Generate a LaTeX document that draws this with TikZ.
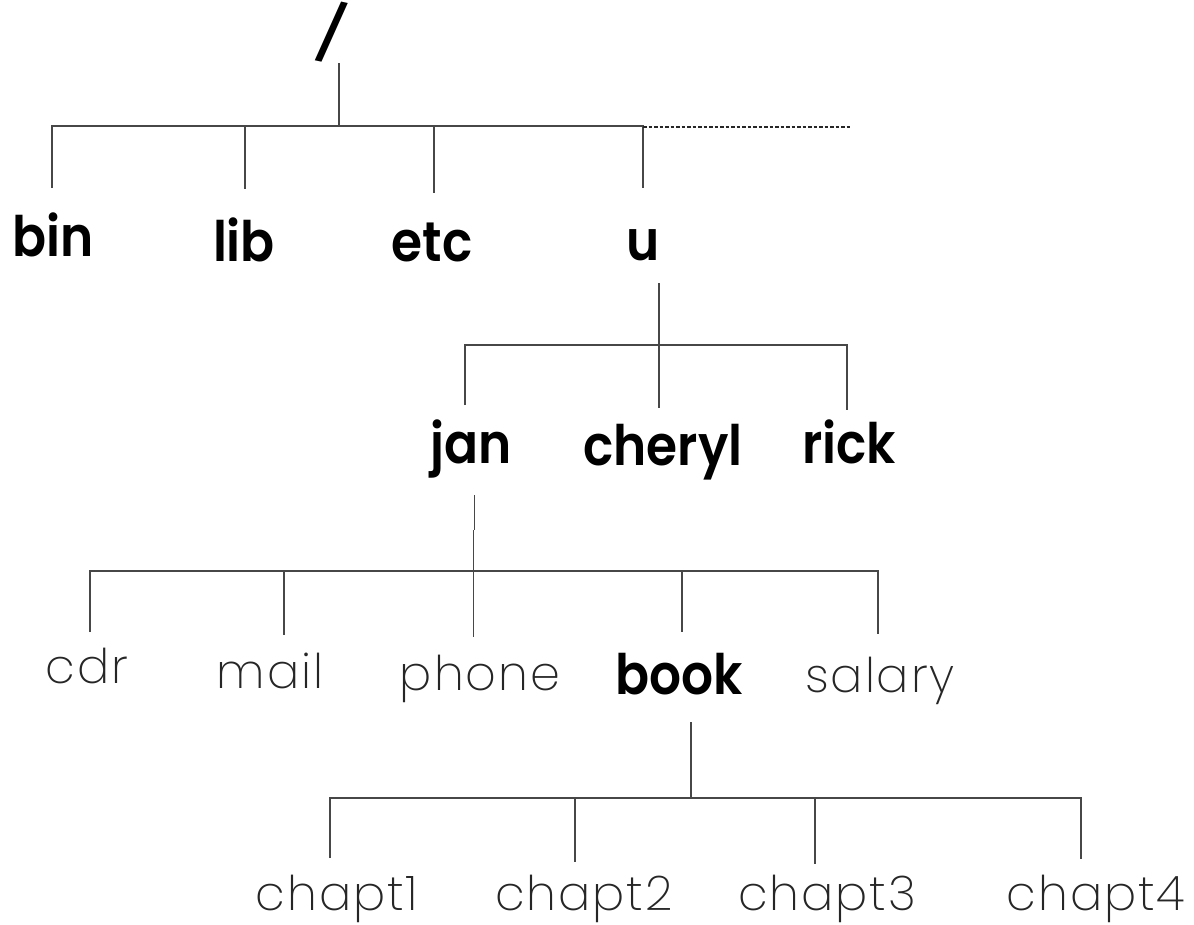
\documentclass[tikz,border=0pt]{standalone}
\usepackage{fontspec}
\newfontfamily\popb{Poppins SemiBold}[FakeStretch=0.9]
\newfontfamily\popl{Poppins ExtraLight}[LetterSpace=4]
\begin{document}
\begin{tikzpicture}[x=1bp,y=-1bp,
  dirb/.style={inner sep=0pt,anchor=base,font=\popb\fontsize{56}{60}\selectfont,text=black},
  fil/.style={inner sep=0pt,anchor=base,font=\popl\fontsize{48}{56}\selectfont,text=black!85},
  ln/.style={draw=black!72,line width=1.3bp},
  dsh/.style={draw=black!85,line width=1.1bp,dash pattern=on 3.5bp off 2bp}]
\useasboundingbox[fill=white] (0,0) rectangle (1194,925);
% texts
\node[dirb,anchor=center,rotate=-12] (root) at (332,32) {/};
\node[dirb] (bin) at (53,256) {bin};
\node[dirb] (lib) at (244,261) {lib};
\node[dirb] (etc) at (432,261) {etc};
\node[dirb] (u) at (643,260) {u};
\node[dirb] (jan) at (471,463) {jan};
\node[dirb] (cheryl) at (663,465) {cheryl};
\node[dirb] (rick) at (849,463) {rick};
\node[fil] (cdr) at (87,683) {cdr};
\node[fil] (mail) at (270,688) {mail};
\node[fil] (phone) at (480,690) {phone};
\node[dirb] (book) at (679,694) {book};
\node[fil] (salary) at (880,692) {salary};
\node[fil] (c1) at (337,910) {chapt1};
\node[fil] (c2) at (584,910) {chapt2};
\node[fil] (c3) at (827,910) {chapt3};
\node[fil] (c4) at (1096,910) {chapt4};
% junction coordinates
\coordinate (rootS) at (339,63);
\coordinate (rootJ) at (339,127);
\coordinate (barL) at (52,126);
\coordinate (barU) at (643,126);
\coordinate (barR) at (850,127);
\coordinate (binE) at (52,188);
\coordinate (libT) at (245,126); \coordinate (libE) at (245,189);
\coordinate (etcT) at (434,126); \coordinate (etcE) at (434,193);
\coordinate (uE) at (643,188);
\coordinate (uS) at (659,283); \coordinate (cherE) at (659,408);
\coordinate (ubL) at (465,345); \coordinate (ubR) at (847,345);
\coordinate (janE) at (465,405); \coordinate (rickE) at (847,410);
\coordinate (janS) at (474.5,495); \coordinate (janK1) at (474.5,530);
\coordinate (janK2) at (473.5,530); \coordinate (phoneE) at (473.5,637);
\coordinate (jbL) at (90,571); \coordinate (jbR) at (878,571);
\coordinate (cdrE) at (90,632);
\coordinate (mailT) at (284,571); \coordinate (mailE) at (284,635);
\coordinate (bookT) at (682,571); \coordinate (bookE) at (682,632);
\coordinate (salE) at (878,634);
\coordinate (bookS) at (691,722); \coordinate (bookJ) at (691,798);
\coordinate (bbL) at (330,798); \coordinate (bbR) at (1081,798);
\coordinate (c1E) at (330,858);
\coordinate (c2T) at (575,798); \coordinate (c2E) at (575,862);
\coordinate (c3T) at (815,798); \coordinate (c3E) at (815,864);
\coordinate (c4E) at (1081,859);
% connectors
\draw[ln] (rootS) -- (rootJ);
\draw[ln] (binE) -- (barL) -- (barU) -- (uE);
\draw[dsh] (barU) ++(0,1) -- (barR);
\draw[ln] (libT) -- (libE);
\draw[ln] (etcT) -- (etcE);
\draw[ln] (uS) -- (cherE);
\draw[ln] (janE) -- (ubL) -- (ubR) -- (rickE);
\draw[ln] (janS) -- (janK1);
\draw[ln] (janK2) -- (phoneE);
\draw[ln] (cdrE) -- (jbL) -- (jbR) -- (salE);
\draw[ln] (mailT) -- (mailE);
\draw[ln] (bookT) -- (bookE);
\draw[ln] (bookS) -- (bookJ);
\draw[ln] (c1E) -- (bbL) -- (bbR) -- (c4E);
\draw[ln] (c2T) -- (c2E);
\draw[ln] (c3T) -- (c3E);
\end{tikzpicture}
\end{document}
